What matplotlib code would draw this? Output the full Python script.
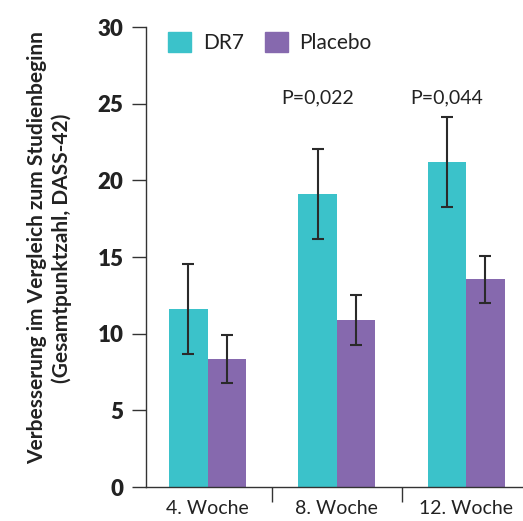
import numpy as np
import matplotlib
matplotlib.use('Agg')
import matplotlib.pyplot as plt
from matplotlib.patches import Patch

plt.rcParams['font.family'] = ['Lato', 'DejaVu Sans']

weeks = ['4. Woche', '8. Woche', '12. Woche']
dr7 = [11.6, 19.1, 21.2]
dr7_err = [2.95, 2.95, 2.95]
placebo = [8.35, 10.9, 13.55]
placebo_err = [1.55, 1.6, 1.55]
p_values = ['', 'P=0,022', 'P=0,044']

teal = '#3bc2ca'
purple = '#8669ae'
text_col = '#222222'

fig = plt.figure(figsize=(5.23, 5.21), dpi=100)
ax = fig.add_axes([0.279, 0.065, 0.721, 0.883])

x = np.arange(len(weeks))
w = 0.298
err_kw = dict(ecolor='#2a2a2a', elinewidth=1.5, capsize=4, capthick=1.5)
ax.bar(x - w / 2, dr7, w, yerr=dr7_err, color=teal, error_kw=err_kw, zorder=2)
ax.bar(x + w / 2, placebo, w, yerr=placebo_err, color=purple, error_kw=err_kw, zorder=2)

for i, p in enumerate(p_values):
    if p:
        ax.text(x[i] - w / 2, 25.4, p, ha='center', va='center', fontsize=14, color=text_col)

ax.set_xlim(-0.478, 2.44)
ax.set_ylim(0, 30)
ax.set_yticks(range(0, 31, 5))
ax.set_xticks(x)
ax.set_xticklabels(weeks, fontsize=14, color=text_col)
ax.set_xticks([0.5, 1.5], minor=True)
ax.tick_params(axis='x', which='major', length=0, pad=9)
ax.tick_params(axis='x', which='minor', length=11, width=1, color='#333333', direction='out')
ax.tick_params(axis='y', length=10, width=1, color='#333333', pad=6, labelsize=16)
for lab in ax.get_yticklabels():
    lab.set_fontweight('heavy')
    lab.set_color(text_col)

for s in ['top', 'right']:
    ax.spines[s].set_visible(False)
for s in ['left', 'bottom']:
    ax.spines[s].set_color('#333333')
    ax.spines[s].set_linewidth(1)

ax.set_ylabel('Verbesserung im Vergleich zum Studienbeginn\n(Gesamtpunktzahl, DASS-42)',
              fontsize=15, fontweight='bold', color=text_col, linespacing=1.25)
ax.yaxis.set_label_coords(-0.196, 0.52)

handles = [Patch(color=teal, label='DR7'), Patch(color=purple, label='Placebo')]
ax.legend(handles=handles, loc='upper left', bbox_to_anchor=(0.01, 1.03), ncol=2, frameon=False,
          fontsize=15, handlelength=1.1, handleheight=1.1, handletextpad=0.55, columnspacing=1.0,
          labelcolor=text_col)

fig.savefig('out.png', dpi=100)
